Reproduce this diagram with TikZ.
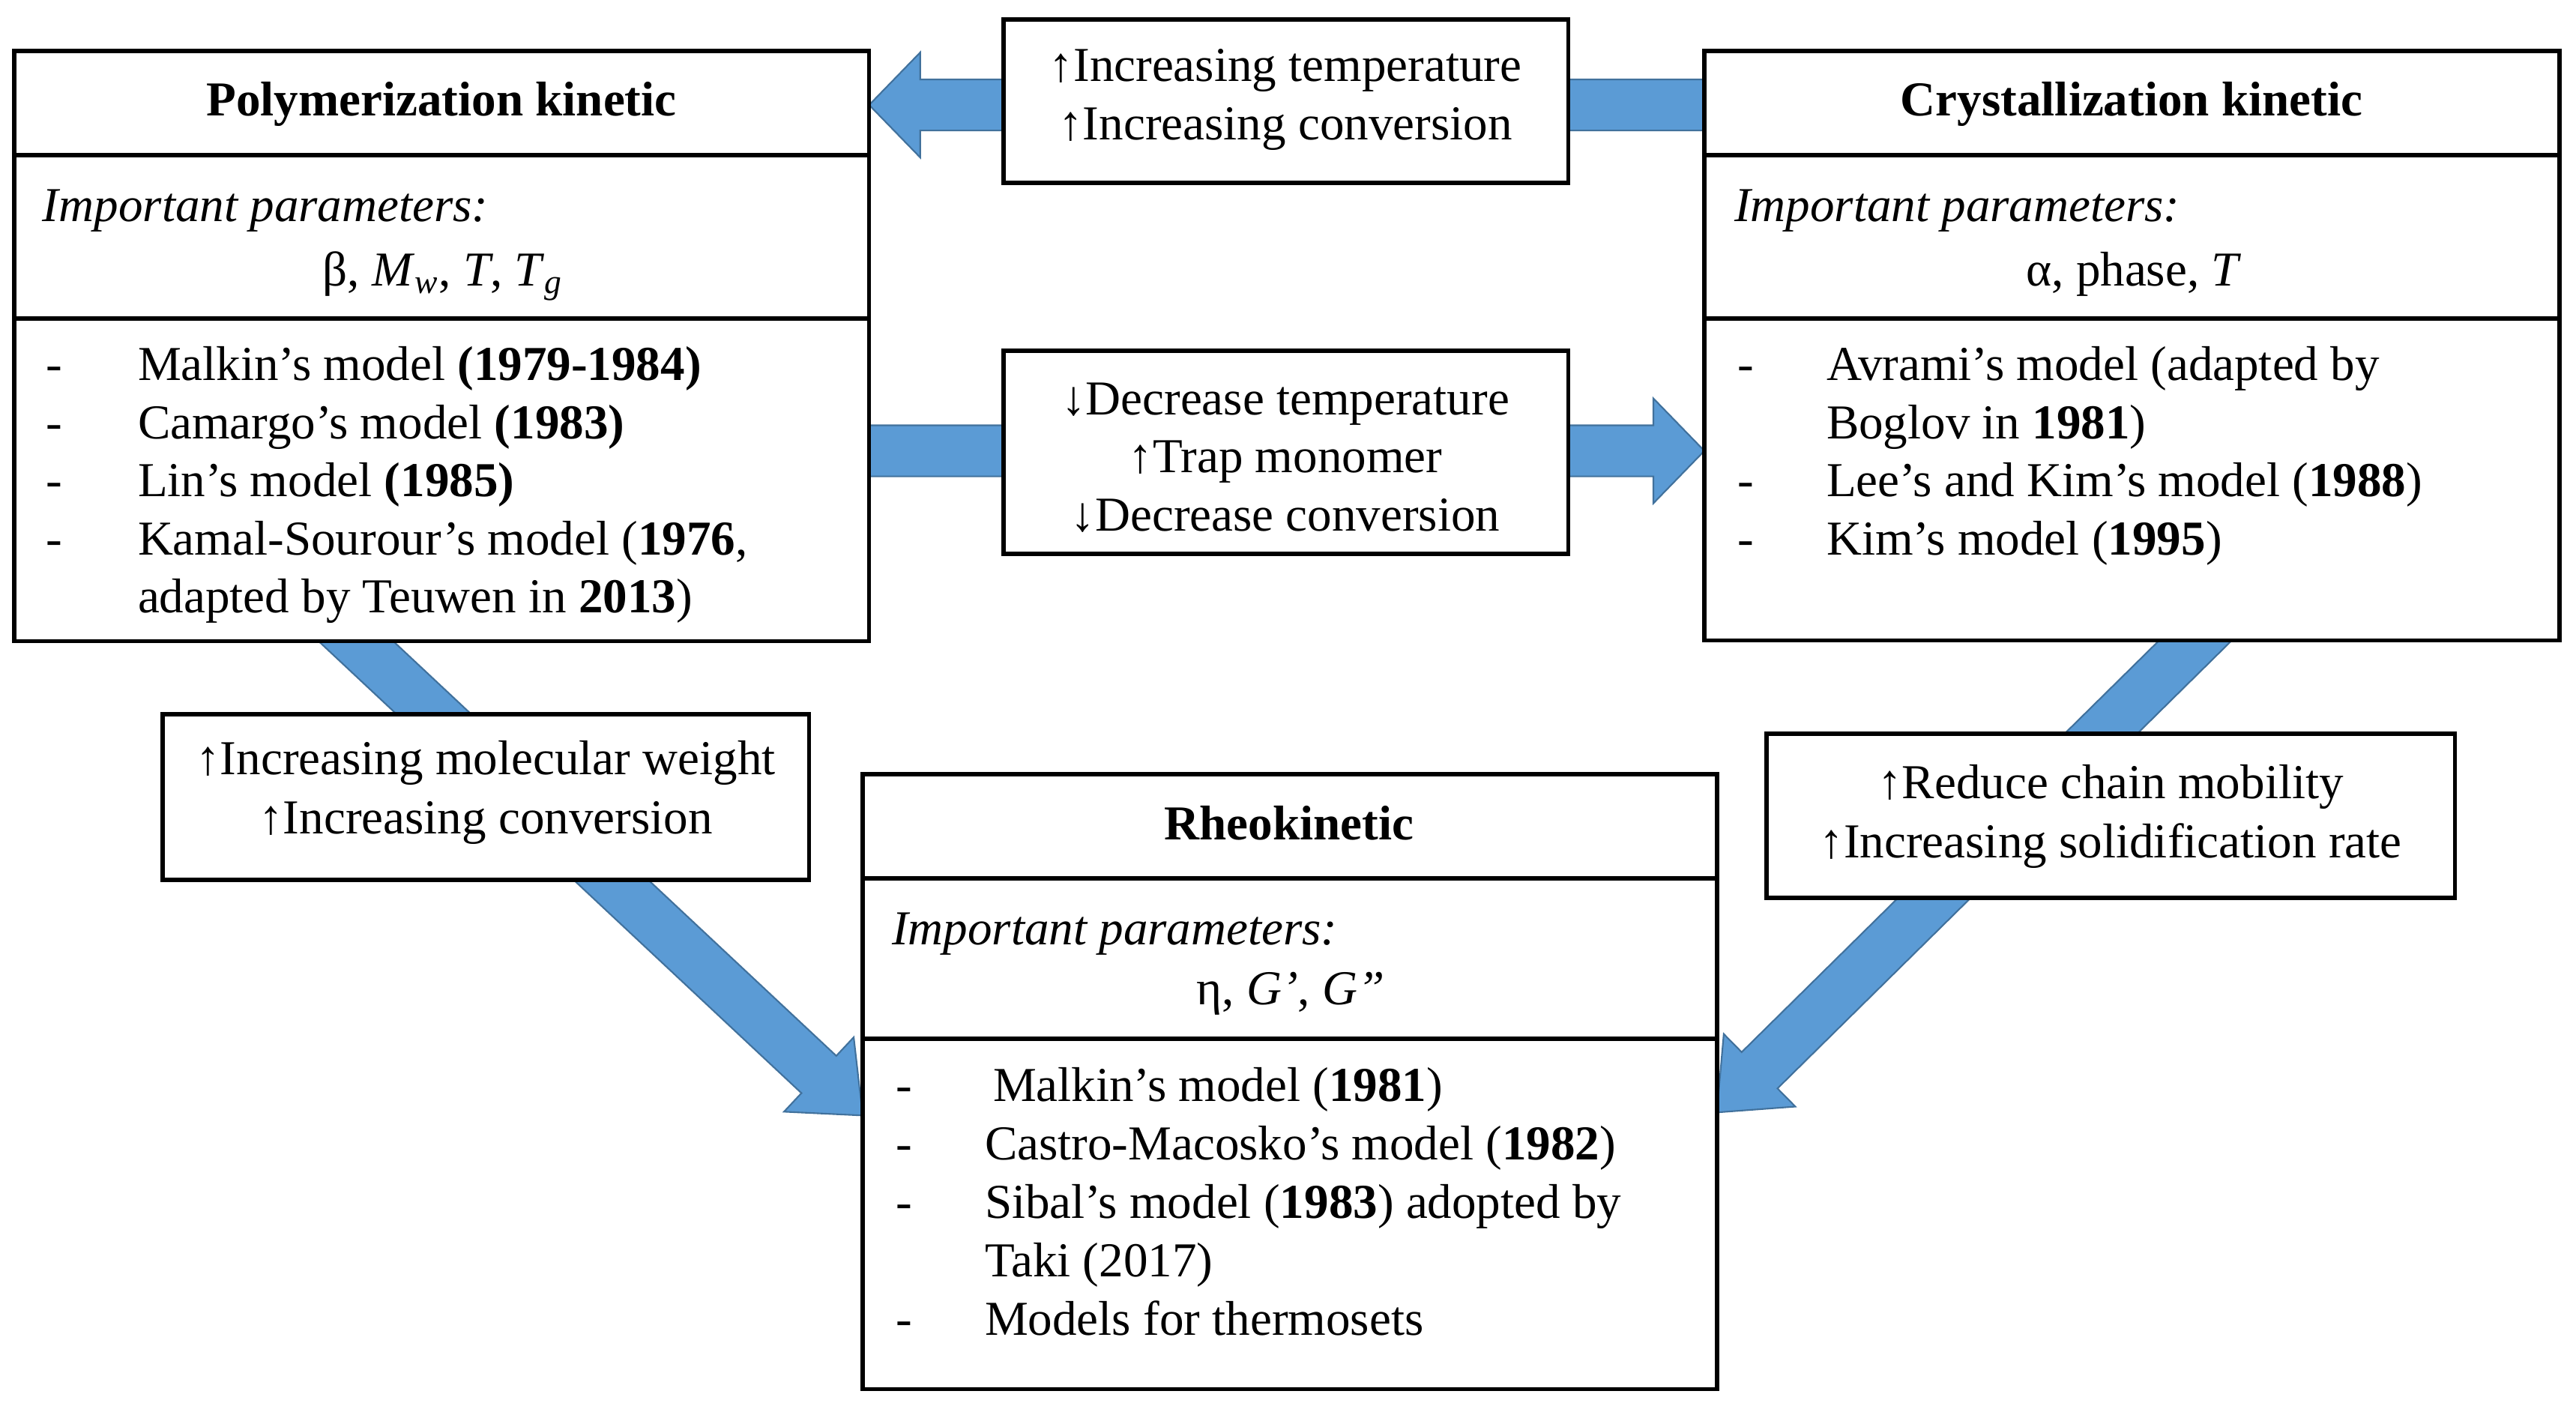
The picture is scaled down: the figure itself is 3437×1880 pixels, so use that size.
\documentclass[tikz,border=0pt]{standalone}
\usepackage{fontspec}
\setmainfont{Liberation Serif}
\usetikzlibrary{calc}
\definecolor{afill}{RGB}{91,155,213}
\definecolor{aedge}{RGB}{65,113,156}
\newcommand\fsz{\fontsize{18.5pt}{22pt}\selectfont}
\pgfdeclarelayer{bg}
\pgfsetlayers{bg,main}
% #1 start, #2 tip, #3 shaft half width, #4 head half width, #5 head length
\newcommand\blockarrow[5]{%
  \coordinate (hb) at ($(#2)!#5!(#1)$);
  \filldraw[barrow] ($(#1)!#3!90:(#2)$) -- ($(hb)!#3!-90:(#1)$) -- ($(hb)!#4!-90:(#1)$) -- (#2)
    -- ($(hb)!#4!90:(#1)$) -- ($(hb)!#3!90:(#1)$) -- ($(#1)!#3!-90:(#2)$) -- cycle;}
\begin{document}
\begin{tikzpicture}[x=0.01cm,y=-0.01cm,
  box/.style={draw, line width=1.6pt, fill=white, inner sep=0pt, outer sep=0pt, anchor=north west},
  divider/.style={line width=1.6pt},
  txt/.style={inner sep=0pt, outer sep=0pt, font=\fsz},
  barrow/.style={fill=afill, draw=aedge, line width=0.6pt, line join=miter}]
\useasboundingbox (0,0) rectangle (3437,1880);

% ---- boxes
\node[box, minimum width=11.40cm, minimum height=7.87cm] (poly) at (19,68) {};
\node[box, minimum width=11.40cm, minimum height=7.86cm] (crys) at (2274,68) {};
\node[box, minimum width=11.39cm, minimum height=8.20cm] (rheo) at (1151,1033) {};
\node[box, minimum width=7.53cm, minimum height=2.18cm] (tm) at (1339,26) {};
\node[box, minimum width=7.53cm, minimum height=2.71cm] (mid) at (1339,468) {};
\node[box, minimum width=8.62cm, minimum height=2.21cm] (lb) at (217,953) {};
\node[box, minimum width=9.18cm, minimum height=2.19cm] (rb) at (2357,979) {};

% ---- dividers
\foreach \b in {poly,crys}{
  \draw[divider] ($(\b.north west)+(0,139)$) -- ($(\b.north east)+(0,139)$);
  \draw[divider] ($(\b.north west)+(0,357)$) -- ($(\b.north east)+(0,357)$);
}
\draw[divider] ($(rheo.north west)+(0,139)$) -- ($(rheo.north east)+(0,139)$);
\draw[divider] ($(rheo.north west)+(0,353)$) -- ($(rheo.north east)+(0,353)$);

% ---- block arrows (behind boxes)
\coordinate (a1s) at ($(crys.west |- tm.center)+(20,5)$);
\coordinate (a1e) at ($(poly.east |- tm.center)+(0,5)$);
\coordinate (a2s) at ($(poly.east |- mid.center)+(-20,-2)$);
\coordinate (a2e) at ($(crys.west |- mid.center)+(0,-2)$);
\coordinate (a3s) at ($(poly.south west)!0.40!(poly.south east)+(-40,-37)$);
\coordinate (a3e) at ($(rheo.north west)!0.555!(rheo.south west)$);
\coordinate (a4s) at ($(crys.south west)!0.575!(crys.south east)+(40,-40)$);
\coordinate (a4e) at ($(rheo.north east)!0.55!(rheo.south east)$);
\begin{pgfonlayer}{bg}
  \blockarrow{a1s}{a1e}{0.34cm}{0.70cm}{0.68cm}
  \blockarrow{a2s}{a2e}{0.34cm}{0.70cm}{0.68cm}
  \blockarrow{a3s}{a3e}{0.34cm}{0.68cm}{0.80cm}
  \blockarrow{a4s}{a4e}{0.34cm}{0.68cm}{0.80cm}
\end{pgfonlayer}

% ---- Polymerization kinetic
\node[txt,anchor=base] (polyT) at (589,155) {\textbf{Polymerization kinetic}};
\node[txt,anchor=base west] (polyI) at (57,296) {\textit{Important parameters:}};
\node[txt,anchor=base] (polyP) at (591,382) {β, \textit{M}\textsubscript{\textit{w}}, \textit{T}, \textit{T}\textsubscript{\textit{g}}};
\node[txt,anchor=base west] (pd1) at (61,508) {-};
\node[txt,anchor=base west] (pd2) at (61,586) {-};
\node[txt,anchor=base west] (pd3) at (61,663) {-};
\node[txt,anchor=base west] (pd4) at (61,741) {-};
\node[txt,anchor=base west] (pl1) at (184,508) {Malkin’s model \textbf{(1979-1984)}};
\node[txt,anchor=base west] (pl2) at (184,586) {Camargo’s model \textbf{(1983)}};
\node[txt,anchor=base west] (pl3) at (184,663) {Lin’s model \textbf{(1985)}};
\node[txt,anchor=base west] (pl4) at (184,741) {Kamal-Sourour’s model (\textbf{1976},};
\node[txt,anchor=base west] (pl5) at (184,818) {adapted by Teuwen in \textbf{2013})};

% ---- Crystallization kinetic
\node[txt,anchor=base] (crysT) at (2844,155) {\textbf{Crystallization kinetic}};
\node[txt,anchor=base west] (crysI) at (2314,296) {\textit{Important parameters:}};
\node[txt,anchor=base] (crysP) at (2847,382) {α, phase, \textit{T}};
\node[txt,anchor=base west] (cd1) at (2318,508) {-};
\node[txt,anchor=base west] (cd2) at (2318,663) {-};
\node[txt,anchor=base west] (cd3) at (2318,741) {-};
\node[txt,anchor=base west] (cl1) at (2437,508) {Avrami’s model (adapted by};
\node[txt,anchor=base west] (cl2) at (2437,586) {Boglov in \textbf{1981})};
\node[txt,anchor=base west] (cl3) at (2437,663) {Lee’s and Kim’s model (\textbf{1988})};
\node[txt,anchor=base west] (cl4) at (2437,741) {Kim’s model (\textbf{1995})};

% ---- Rheokinetic
\node[txt,anchor=base] (rheoT) at (1720,1120) {\textbf{Rheokinetic}};
\node[txt,anchor=base west] (rheoI) at (1190,1260) {\textit{Important parameters:}};
\node[txt,anchor=base] (rheoP) at (1722,1340) {η, \textit{G’}, \textit{G”}};
\node[txt,anchor=base west] (rd1) at (1195,1469) {-};
\node[txt,anchor=base west] (rd2) at (1195,1547) {-};
\node[txt,anchor=base west] (rd3) at (1195,1625) {-};
\node[txt,anchor=base west] (rd4) at (1195,1781) {-};
\node[txt,anchor=base west] (rl1) at (1325,1469) {Malkin’s model (\textbf{1981})};
\node[txt,anchor=base west] (rl2) at (1314,1547) {Castro-Macosko’s model (\textbf{1982})};
\node[txt,anchor=base west] (rl3) at (1314,1625) {Sibal’s model (\textbf{1983}) adopted by};
\node[txt,anchor=base west] (rl4) at (1314,1703) {Taki (2017)};
\node[txt,anchor=base west] (rl5) at (1314,1781) {Models for thermosets};

% ---- arrow labels
\node[txt,anchor=base] (tm1) at (1715,109) {↑Increasing temperature};
\node[txt,anchor=base] (tm2) at (1715,187) {↑Increasing conversion};
\node[txt,anchor=base] (mid1) at (1715,554) {↓Decrease temperature};
\node[txt,anchor=base] (mid2) at (1715,631) {↑Trap monomer};
\node[txt,anchor=base] (mid3) at (1715,709) {↓Decrease conversion};
\node[txt,anchor=base] (lb1) at (648,1034) {↑Increasing molecular weight};
\node[txt,anchor=base] (lb2) at (648,1113) {↑Increasing conversion};
\node[txt,anchor=base] (rb1) at (2816,1065) {↑Reduce chain mobility};
\node[txt,anchor=base] (rb2) at (2816,1144) {↑Increasing solidification rate};
\end{tikzpicture}
\end{document}
